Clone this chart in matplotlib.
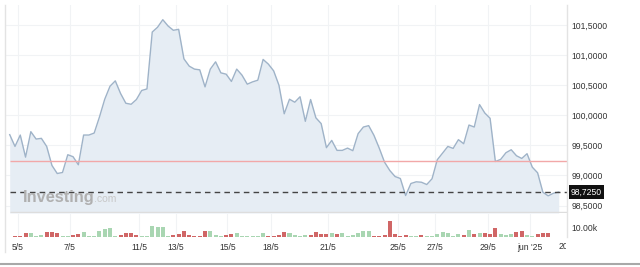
import matplotlib.pyplot as plt
import numpy as np
from matplotlib.lines import Line2D
from matplotlib.transforms import Bbox, TransformedBbox

# -------------------------------------------------------------------
# Data
# -------------------------------------------------------------------
price = [
    99.678, 99.483, 99.672, 99.305, 99.728, 99.605, 99.617, 99.483, 99.167, 99.033,
    99.050, 99.345, 99.312, 99.178, 99.672, 99.672, 99.705, 99.972, 100.267, 100.483,
    100.572, 100.362, 100.200, 100.183, 100.262, 100.412, 100.438, 101.383, 101.462, 101.588,
    101.483, 101.412, 101.428, 100.938, 100.817, 100.767, 100.755, 100.472, 100.767, 100.888,
    100.705, 100.683, 100.562, 100.767, 100.667, 100.517, 100.555, 100.583, 100.928, 100.850,
    100.738, 100.500, 100.025, 100.267, 100.217, 100.308, 99.900, 100.262, 99.958, 99.862,
    99.462, 99.583, 99.417, 99.417, 99.455, 99.412, 99.695, 99.805, 99.828, 99.667,
    99.455, 99.222, 99.083, 98.983, 98.950, 98.667, 98.867, 98.895, 98.888, 98.850,
    98.945, 99.262, 99.372, 99.483, 99.450, 99.595, 99.528, 99.838, 99.805, 100.178,
    100.038, 99.950, 99.233, 99.267, 99.378, 99.428, 99.328, 99.283, 99.362, 99.138,
    99.045, 98.722, 98.662, 98.705, 98.725,
]

# volume in thousands, one bar per price point after the first
volume_k = [
    1.1, 1.1, 3.7, 3.7, 1.1, 2.2, 4.8, 4.8, 3.7, 0.6,
    0.8, 2.2, 3.0, 4.8, 0.8, 1.1, 5.9, 8.5, 9.2, 0.6,
    2.2, 3.7, 3.7, 1.9, 0.8, 1.1, 11.4, 10.3, 10.3, 0.6,
    1.9, 3.0, 5.9, 2.2, 1.1, 1.1, 5.6, 5.9, 1.7, 1.1,
    1.9, 3.0, 4.4, 1.1, 1.1, 1.1, 1.1, 4.1, 1.1, 1.1,
    1.7, 4.8, 3.7, 1.7, 1.1, 1.7, 2.2, 4.8, 2.6, 2.6,
    3.7, 2.6, 4.1, 1.1, 1.7, 4.4, 5.6, 5.6, 0.4, 1.1,
    1.9, 16.7, 2.6, 0.4, 2.2, 1.1, 1.1, 1.4, 0.4, 1.1,
    3.3, 4.8, 4.4, 0.4, 3.0, 2.2, 7.4, 2.6, 4.1, 3.7,
    3.3, 9.7, 3.0, 1.7, 2.6, 4.8, 5.9, 1.7, 0.8, 2.6,
    4.4, 4.1, 0.0, 0.0,
]
# u = green (up) bar, d = red (down) bar
volume_dir = "".join([
    "ddduuudddu", "udduuuuuuu", "dddduuuuuu", "ddddddduuu", "dduuuuuudd",
    "dduuuudddd", "uduuuuuudd", "ddddduuduu", "uuuuududud", "dduuudduud",
    "dduu",
])

red_level = 99.245
last_price = 98.725

tick_pos = [1.5, 11.4, 24.5, 31.5, 41.25, 49.5, 60.3, 73.55, 80.6, 90.6, 98.55]
tick_labels = ["5/5", "7/5", "11/5", "13/5", "15/5", "18/5", "21/5",
               "25/5", "27/5", "29/5", "jun '25"]
price_ticks = [98.5, 99.0, 99.5, 100.0, 100.5, 101.0, 101.5]

# -------------------------------------------------------------------
# Style
# -------------------------------------------------------------------
LINE = "#9fb3c8"
FILL = "#e6edf4"
GRID = "#f1f3f5"
RED_BAR = "#d06666"
GREEN_BAR = "#a9d6b2"
TXT = "#333333"
plt.rcParams["font.family"] = ["Liberation Sans", "DejaVu Sans"]

W, H = 640, 267
fig = plt.figure(figsize=(6.4, 2.67), dpi=100)
fig.patch.set_facecolor("white")

ax = fig.add_axes([5 / W, 1 - 213 / H, 562 / W, 208 / H])
axv = fig.add_axes([5 / W, 1 - 236.5 / H, 562 / W, 22.5 / H])

x = np.arange(len(price))
xlim = (-0.894, 105.57)
ylo, yhi = 98.377, 101.832

# price panel
ax.fill_between(x, price, ylo, color=FILL, lw=0)
ax.plot(x, price, color=LINE, lw=1)
ax.hlines(red_level, x[0], xlim[1], color="#f2a8a8", lw=1)
ax.hlines(last_price, x[0], xlim[1], color="#444444", lw=1, linestyles=(0, (4, 3)))
ax.hlines(ylo + 0.01, x[0], xlim[1], color="#dddddd", lw=1)
ax.set_xlim(*xlim)
ax.set_ylim(ylo, yhi)
for t in price_ticks:
    ax.axhline(t, color=GRID, lw=0.8, zorder=0)
for t in tick_pos:
    ax.axvline(t, color=GRID, lw=0.8, zorder=0)
ax.yaxis.tick_right()
ax.set_yticks(price_ticks)
ax.set_yticklabels([f"{t:.4f}".replace(".", ",") for t in price_ticks])
ax.tick_params(axis="y", length=0, pad=3.5, labelsize=6.2, labelcolor=TXT)
ax.set_xticks([])
for s in ax.spines.values():
    s.set_visible(False)
ax.text(1.007, (last_price - ylo) / (yhi - ylo), f"{last_price:.4f}".replace(".", ","),
        transform=ax.transAxes, ha="left", va="center", fontsize=6.2, color="white",
        bbox=dict(boxstyle="square,pad=0.25", fc="#111111", ec="none"))

# watermark
ax.text(0.031, 0.055, "Investing", transform=ax.transAxes, fontsize=11.8, fontweight="bold",
        color="#b0b0b0", ha="left", va="baseline")
ax.text(0.158, 0.055, ".com", transform=ax.transAxes, fontsize=7.5,
        color="#c8c8c8", ha="left", va="baseline")

# volume panel
vx = x[1:]
colors = [GREEN_BAR if d == "u" else RED_BAR for d in volume_dir]
axv.bar(vx, volume_k, width=0.76, color=colors, lw=0)
axv.set_xlim(*xlim)
axv.set_ylim(0, 25)
for t in tick_pos:
    axv.axvline(t, color=GRID, lw=0.8, zorder=0)
axv.yaxis.tick_right()
axv.set_yticks([10])
axv.set_yticklabels(["10.00k"])
axv.tick_params(axis="y", length=0, pad=3.5, labelsize=6.2, labelcolor=TXT)
axv.set_xticks(tick_pos)
axv.set_xticklabels(tick_labels)
axv.tick_params(axis="x", length=0, pad=4.5, labelsize=6.2, labelcolor=TXT)
for s in axv.spines.values():
    s.set_visible(False)
cut = axv.text(104.05, -0.43, "2025", transform=axv.get_xaxis_transform(), ha="left",
               va="center", fontsize=6.2, color=TXT, clip_on=True)
cut.set_clip_box(TransformedBbox(Bbox([[0, 0], [565.5 / W, 1]]), fig.transFigure))

# frame lines
fig.add_artist(Line2D([5 / W, 5 / W], [1 - 252 / H, 1 - 5 / H], color="#e3e3e3", lw=1))
fig.add_artist(Line2D([567 / W, 567 / W], [1 - 237 / H, 1 - 5 / H], color="#e3e3e3", lw=1))
fig.add_artist(Line2D([0, 1], [1 - 263.5 / H, 1 - 263.5 / H], color="#a8a8a8", lw=1.5))

fig.savefig("out.png", dpi=100, facecolor="white")
